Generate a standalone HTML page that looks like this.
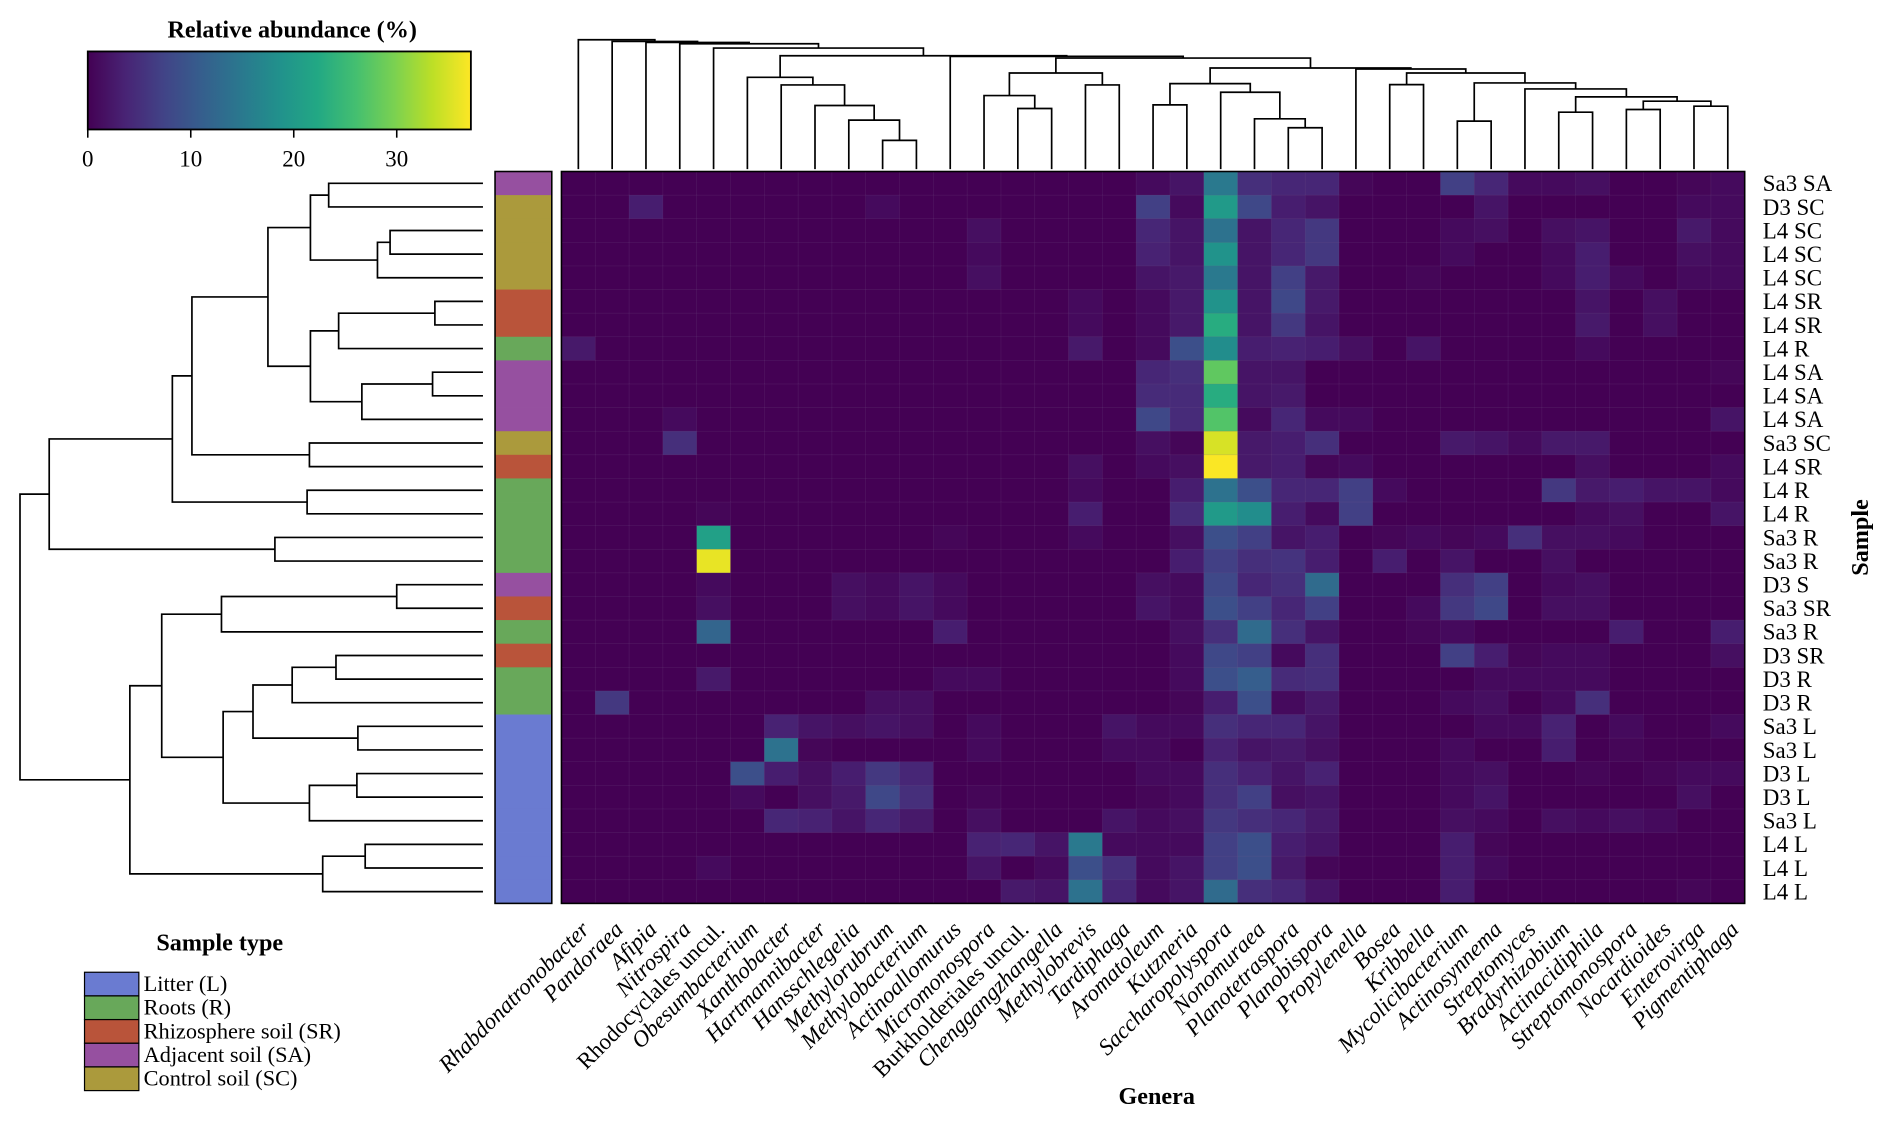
<!DOCTYPE html>
<html><head><meta charset="utf-8"><title>Heatmap</title>
<style>
html,body{margin:0;padding:0;background:#fff;}
svg{display:block;font-family:"Liberation Serif","DejaVu Serif",serif;}
</style></head>
<body>
<svg id="chart" xmlns="http://www.w3.org/2000/svg" width="1892" height="1122" viewBox="0 0 1567 929" preserveAspectRatio="none">
<defs>
<linearGradient id="vir" x1="0" x2="1" y1="0" y2="0">
<stop offset="0" stop-color="#440154"/><stop offset="0.1" stop-color="#482475"/><stop offset="0.2" stop-color="#414487"/><stop offset="0.3" stop-color="#355f8d"/><stop offset="0.4" stop-color="#2a788e"/><stop offset="0.5" stop-color="#21918c"/><stop offset="0.6" stop-color="#22a884"/><stop offset="0.7" stop-color="#44bf70"/><stop offset="0.8" stop-color="#7ad151"/><stop offset="0.9" stop-color="#bddf26"/><stop offset="1" stop-color="#fde725"/>
</linearGradient>
</defs>
<g id="colorbar">
<text x="242" y="31" text-anchor="middle" font-weight="bold" font-size="20">Relative abundance (%)</text>
<rect x="72.7" y="42.6" width="317.3" height="64.6" fill="url(#vir)" stroke="#000" stroke-width="1.5"/>
</g>
<g id="cbticks"></g>
<g id="topdendro"></g>
<g id="leftdendro"></g>
<g id="sidebar"></g>
<g id="cells"></g>
<g id="rowlabels"></g>
<g id="collabels"></g>
<text x="958" y="914" text-anchor="middle" font-weight="bold" font-size="20">Genera</text>
<text transform="translate(1547,445) rotate(-90)" text-anchor="middle" font-weight="bold" font-size="20">Sample</text>
<g id="legend">
<text x="182" y="787" text-anchor="middle" font-weight="bold" font-size="20">Sample type</text>
</g>
</svg>
<script>
const genera = ["Rhabdonatronobacter","Pandoraea","Afipia","Nitrospira","Rhodocyclales uncul.","Obesumbacterium","Xanthobacter","Hartmannibacter","Hansschlegelia","Methylorubrum","Methylobacterium","Actinoallomurus","Micromonospora","Burkholderiales uncul.","Chenggangzhangella","Methylobrevis","Tardiphaga","Aromatoleum","Kutzneria","Saccharopolyspora","Nonomuraea","Planotetraspora","Planobispora","Propylenella","Bosea","Kribbella","Mycolicibacterium","Actinosynnema","Streptomyces","Bradyrhizobium","Actinacidiphila","Streptomonospora","Nocardioides","Enterovirga","Pigmentiphaga"];
const samples = ["Sa3 SA","D3 SC","L4 SC","L4 SC","L4 SC","L4 SR","L4 SR","L4 R","L4 SA","L4 SA","L4 SA","Sa3 SC","L4 SR","L4 R","L4 R","Sa3 R","Sa3 R","D3 S","Sa3 SR","Sa3 R","D3 SR","D3 R","D3 R","Sa3 L","Sa3 L","D3 L","D3 L","Sa3 L","L4 L","L4 L","L4 L"];
const sampleTypes = ["SA","SC","SC","SC","SC","SR","SR","R","SA","SA","SA","SC","SR","R","R","R","R","SA","SR","R","SR","R","R","L","L","L","L","L","L","L","L"];
const typeNames = ["L","R","SR","SA","SC"];
const typeLabels = ["Litter (L)","Roots (R)","Rhizosphere soil (SR)","Adjacent soil (SA)","Control soil (SC)"];
const typeColors = ["#6a7bd1","#68a85a","#b9543a","#9650a0","#ab9a3c"];
const cbTicks = [0,10,20,30];
const cbMax = 37.2;
const values = [
[0,0,0,0,0,0,0,0,0,0,0,0,0,0,0,0,0, 1,2,15,5,4,4,0.5,0,0,7,4,1,1,1.5,0,0,0.5,1],
[0,0,3,0,0,0,0,0,0,1,0,0,0,0,0,0,0, 7,1,20,8,3,2,0,0,0,0,2,0,0,0,0,0,1,1],
[0,0,0,0,0,0,0,0,0,0,0,0,1.5,0,0,0,0, 4,2,14,2,4,6,0,0,0,1,1.5,0,1.5,2,0,0,2.5,1],
[0,0,0,0,0,0,0,0,0,0,0,0,1,0,0,0,0, 3.5,2,19,2,4,6,0,0,0,1,0,0,1,3,0,0,1.5,1],
[0,0,0,0,0,0,0,0,0,0,0,0,1.5,0,0,0,0, 2,2.5,15,2,7,2.5,0,0,0.5,0,0,0,1,3,1,0,1,1],
[0,0,0,0,0,0,0,0,0,0,0,0,0,0,0,1,0, 1,2.5,19,2,8,2.5,0,0,0,0,0,0,0,2,0,1.5,0,0],
[0,0,0,0,0,0,0,0,0,0,0,0,0,0,0,1,0, 1,2.5,23,2,6,2,0,0,0,0,0,0,0,2.5,0,1.5,0,0],
[2.5,0,0,0,0,0,0,0,0,0,0,0,0,0,0,2.5,0, 1,9,18,3,3.5,3,1.5,0,2,0,0,0,0,1,0,0,0,0],
[0,0,0,0,0,0,0,0,0,0,0,0,0,0,0,0,0, 4,5,28,2,2,0,0,0,0,0,0,0,0,0,0,0,0,0.5],
[0,0,0,0,0,0,0,0,0,0,0,0,0,0,0,0,0, 4.5,4.5,23,2,2.5,0,0,0,0,0,0,0,0,0,0,0,0,0],
[0,0,0,1,0,0,0,0,0,0,0,0,0,0,0,0,0, 8,4.5,27,1,4,1,1,0,0,0,0,0,0,0,0,0,0,2],
[0,0,0,5,0,0,0,0,0,0,0,0,0,0,0,0,0, 1.5,0.5,35,2.5,3,5,0,0,0,2.5,2,1,2.5,2.5,0,0,0,0],
[0,0,0,0,0,0,0,0,0,0,0,0,0,0,0,1.5,0, 1,1.5,37,2.5,3,0.5,1,0,0,0,0,0,0,1.5,0,0,0,1],
[0,0,0,0,0,0,0,0,0,0,0,0,0,0,0,1,0, 0,3,14,9,4,4,7,1,0,0,0,0,6,2.5,3,2,2,1],
[0,0,0,0,0.5,0,0,0,0,0,0,0,0,0,0,3,0, 0,4.5,20,18,3,1,7,0,0,0,0,0,0,1,1.5,0,0,2],
[0,0,0,0,21,0,0,0,0,0,0,0.5,0,0,0,1,0, 0,1.5,9,7,2,3,0,0.5,1,0.5,1,5,1.5,1.5,1,0,0,0],
[0,0,0,0,36,0,0,0,0,0,0,0,0,0,0,0,0, 0,3,7,5,5.5,3,0,3,0,2,0,0,1.5,0,0,0,0,0],
[0,0,0,0,1,0,0,0,1.5,1,2,1,0,0,0,0,0, 1.5,1,8,4,5,13,0,0,0,5,7,0,1,1.5,0,0,0,0],
[0,0,0,0,1.5,0,0,0,1.5,1,2,1,0,0,0,0,0, 2,1,9,7,4,7,0,0,1,6,8,0,1.5,1.5,0,0,0,0],
[0,0,0,0,12,0,0,0,0,0,0,3,0,0,0,0,0, 0,1.5,5,13,5,2,0,0,0.5,1,0,0,0,0,3,0,0,3],
[0,0,0,0,0,0,0,0,0,0,0,0,0,0,0,0,0, 0,1,8,7,1,5,0,0,0,7,3,0.5,1,1,0,0,0,1.5],
[0,0,0,0,2.5,0,0,0,0,0,0,1,1,0,0,0,0, 0,1,9,11,4.5,5,0,0,0,0,1,1,1,1,0,0,0,0],
[0,6,0,0,0,0,0,0,0,1.5,1.5,0,0,0,0,0,0, 0,0.5,3,9,1,2.5,0,0,0,1,1.5,0,1,5,0,0,0,0],
[0,0,0,0,0,0,3.5,2,1.5,2,1.5,0,1,0,0,0,2, 1,1,5,4,4,2,0,0,0,0,1,1,3.5,0,1,0,0,1],
[0,0,0,0,0,0,14,0.5,0,0,0,0,1,0,0,0,1, 1,0,3.5,2,2.5,1.5,0,0,0,1,0,0,3,0,0.5,0,0,0],
[0,0,0,0,0,9,3,1.5,3,6,4,0,0,0,0,0,0, 1,1,5,3.5,2,3.5,0,0,0,1,1.5,0,0,0.5,0,0.5,1,1],
[0,0,0,0,0,1,0,1.5,2.5,8,5,0,0.5,0,0,0,0, 0.5,1,5,7,1.5,2,0,0,0,1,2,0,0,0,0,0,1.5,0],
[0,0,0,0,0,0,4,3.5,2,4,2.5,0,1.5,0,0,0,2, 1,1.5,6,5,4,2.5,0,0,0,1.5,1,0,1.5,1,1.5,1,0,0],
[0,0,0,0,0,0,0,0,0,0,0,0,3.5,4,2,15,1, 1,1,7,9,3,2,0,0,0,3,0.5,0,0,0,0,0,0,0],
[0,0,0,0,1,0,0,0,0,0,0,0,2,0,1,9,5, 1,2,7,9,2.5,0.5,0,0,0,3,1,0,0,0,0,0,0,0],
[0,0,0,0,0,0,0,0,0,0,0,0,0,2.5,2,14,4, 1,2,13,5,4,2,0,0,0,3,0,0,0,0,0,0,0.5,0]
];
// dendrogram merges: [left, right, height]
const colTree = [0,[1,[2,[3,[4,[[5,[6,[7,[8,[9,10,77],138],182],244],267],[11,[[[12,[13,14,173],212],[15,16,244],280],[[[17,18,184],[19,[20,[21,22,115],142],222],248],[23,[[24,25,245],[[26,27,135],[28,[[29,30,162],[[31,32,170],[33,34,180],195],208],232],250],280],292],295],325],330],332],355],368],372],375],380];
const rowTree = [[[[[[[0,1,443],[[2,3,258],4,296],498],[[[5,6,123],7,413],[[8,9,130],10,343],498],626],[11,12,501],855],[13,14,508],914],[15,16,605],1285],[[[[17,18,238],19,766],[[[[20,21,421],22,553],[23,24,355],671],[[25,26,358],27,501],761],946],[[28,29,333],30,461],1042],1373];

const NS="http://www.w3.org/2000/svg";
const HX0=465, HX1=1445, HY0=142, HY1=748;
const nC=genera.length, nR=samples.length;
const cw=(HX1-HX0)/nC, rh=(HY1-HY0)/nR;
const xCol=i=>HX0+cw*(i+0.5);
const yRow=j=>HY0+rh*(j+0.5);
const dScale=0.2749;
const yTop=h=>137.4-h*dScale;
const xLeft=d=>394-d*dScale;
const vir=["#440154","#482475","#414487","#355f8d","#2a788e","#21918c","#22a884","#44bf70","#7ad151","#bddf26","#fde725"];
function hex(c){return [parseInt(c.slice(1,3),16),parseInt(c.slice(3,5),16),parseInt(c.slice(5,7),16)];}
function color(v){let t=Math.max(0,Math.min(1,v/cbMax))*10;let i=Math.min(9,Math.floor(t));let f=t-i;let a=hex(vir[i]),b=hex(vir[i+1]);return "rgb("+a.map((x,k)=>Math.round(x+(b[k]-x)*f)).join(",")+")";}
function mk(tag,attrs,parent){const e=document.createElementNS(NS,tag);for(const k in attrs)e.setAttribute(k,attrs[k]);parent.appendChild(e);return e;}

const cbg=document.getElementById("cbticks");
cbTicks.forEach(t=>{
  const x=72.7+(390-72.7)*t/cbMax;
  const l=mk("line",{x1:x,x2:x,y1:107.2,y2:114,stroke:"#000","stroke-width":1.3},cbg);
  
  
  const tx=mk("text",{x:x,y:138,"text-anchor":"middle","font-size":19},cbg);
  
  
  tx.textContent=t;
});

const cg=document.getElementById("cells");
values.forEach((row,j)=>row.forEach((v,i)=>{
  const r=mk("rect",{x:HX0+cw*i,y:HY0+rh*j,width:cw+0.3,height:rh+0.3,fill:color(v),stroke:"rgba(120,90,140,0.25)","stroke-width":0.5},cg);
  
  
}));
const border=mk("rect",{x:HX0,y:HY0,width:HX1-HX0,height:HY1-HY0,fill:"none",stroke:"#000","stroke-width":1.3},cg);



const sg=document.getElementById("sidebar");
sampleTypes.forEach((t,j)=>{
  const r=mk("rect",{x:410,y:HY0+rh*j,width:47,height:rh+0.3,fill:typeColors[typeNames.indexOf(t)]},sg);
  
  
});
const sb=mk("rect",{x:410,y:HY0,width:47,height:HY1-HY0,fill:"none",stroke:"#000","stroke-width":1.3},sg);



const rg=document.getElementById("rowlabels");
samples.forEach((s,j)=>{
  const t=mk("text",{x:1460,y:yRow(j)+6.5,"font-size":19},rg);
  
  
  t.textContent=s;
});

const clg=document.getElementById("collabels");
genera.forEach((g,i)=>{
  const x=xCol(i), y=766;
  const t=mk("text",{transform:"translate("+x+","+y+") rotate(-45)","text-anchor":"end","font-size":19,dy:"0.55em",dx:"0.2em","font-style":g.indexOf("uncul.")>=0?"normal":"italic"},clg);
  
  
  t.textContent=g;
});

function drawTree(node,g,isTop){
  if(typeof node==="number"){return {p:isTop?xCol(node):yRow(node),h:0};}
  const a=drawTree(node[0],g,isTop), b=drawTree(node[1],g,isTop), h=node[2];
  let d;
  if(isTop){
    const ya=yTop(a.h), yb=yTop(b.h), yh=yTop(h);
    d="M"+a.p+","+(a.h===0?140:ya)+"V"+yh+"H"+b.p+"V"+(b.h===0?140:yb);
  }else{
    const xa=xLeft(a.h), xb=xLeft(b.h), xh=xLeft(h);
    d="M"+(a.h===0?400:xa)+","+a.p+"H"+xh+"V"+b.p+"H"+(b.h===0?400:xb);
  }
  const p=mk("path",{d:d,fill:"none",stroke:"#000","stroke-width":1.4},g);
  
  
  return {p:(a.p+b.p)/2,h:h};
}
drawTree(colTree,document.getElementById("topdendro"),true);
drawTree(rowTree,document.getElementById("leftdendro"),false);

const lg=document.getElementById("legend");
typeLabels.forEach((lab,k)=>{
  const y=805+k*19.6;
  const r=mk("rect",{x:70,y:y,width:45,height:19.6,fill:typeColors[k],stroke:"#000","stroke-width":1},lg);
  
  
  const t=mk("text",{x:119,y:y+15.5,"font-size":18.5},lg);
  
  
  t.textContent=lab;
});
</script>
</body></html>
